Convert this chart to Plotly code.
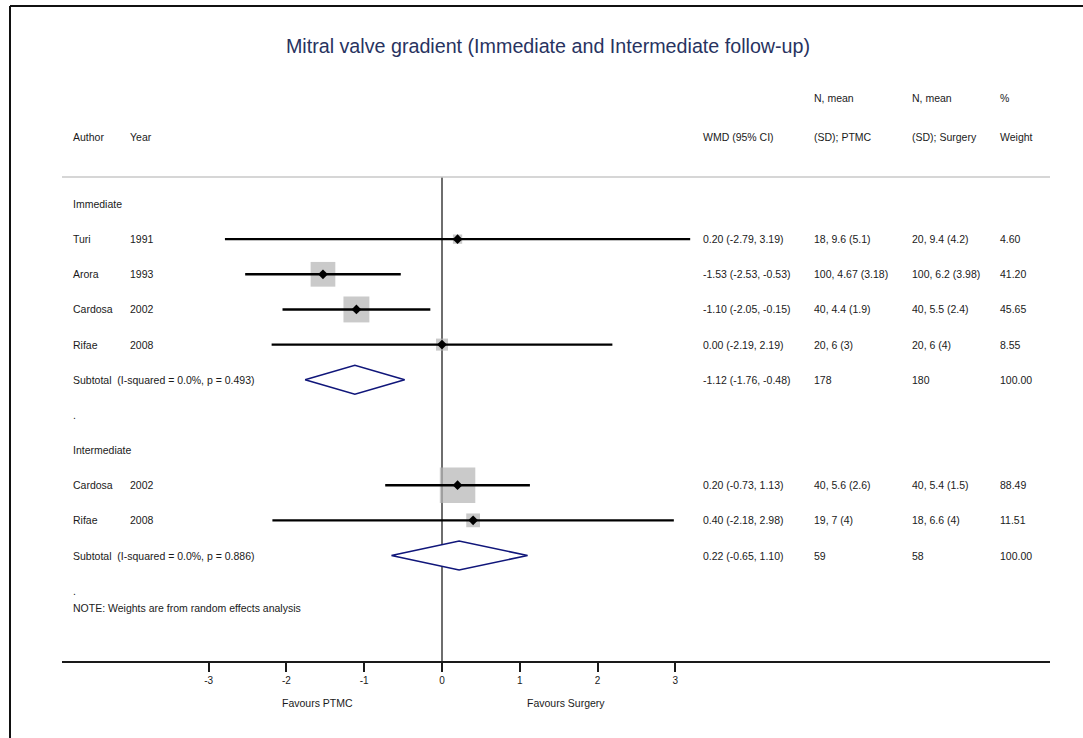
import plotly.graph_objects as go

# ---------------- data ----------------
imm_authors = ["Turi", "Arora", "Cardosa", "Rifae"]
imm_years = ["1991", "1993", "2002", "2008"]
imm_wmd = [0.20, -1.53, -1.10, 0.00]
imm_lo = [-2.79, -2.53, -2.05, -2.19]
imm_hi = [3.19, -0.53, -0.15, 2.19]
imm_ptmc = ["18, 9.6 (5.1)", "100, 4.67 (3.18)", "40, 4.4 (1.9)", "20, 6 (3)"]
imm_surg = ["20, 9.4 (4.2)", "100, 6.2 (3.98)", "40, 5.5 (2.4)", "20, 6 (4)"]
imm_weight = [4.60, 41.20, 45.65, 8.55]

int_authors = ["Cardosa", "Rifae"]
int_years = ["2002", "2008"]
int_wmd = [0.20, 0.40]
int_lo = [-0.73, -2.18]
int_hi = [1.13, 2.98]
int_ptmc = ["40, 5.6 (2.6)", "19, 7 (4)"]
int_surg = ["40, 5.4 (1.5)", "18, 6.6 (4)"]
int_weight = [88.49, 11.51]

sub_names = ["Immediate", "Intermediate"]
sub_est = [-1.12, 0.22]
sub_lo = [-1.76, -0.65]
sub_hi = [-0.48, 1.10]
sub_n_ptmc = ["178", "59"]
sub_n_surg = ["180", "58"]
sub_i2 = ["0.0%", "0.0%"]
sub_p = ["0.493", "0.886"]

tick_vals = [-3, -2, -1, 0, 1, 2, 3]
tick_text = ["-3", "-2", "-1", "0", "1", "2", "3"]

# ---------------- layout geometry ----------------
W, H = 1083, 738
PL, PR, PT, PB = 62, 1050, 177, 661       # plot area in pixels
X0PX, UNIT = 442.0, 77.8                  # pixel of x=0, pixels per unit
ROW0, STEP = 204.0, 35.15                 # pixel of row 0, row spacing

xr = [(PL - X0PX) / UNIT, (PR - X0PX) / UNIT]
yr = [(PB - ROW0) / STEP, (PT - ROW0) / STEP]


def px_x(px):
    return (px - PL) / (PR - PL)


def px_y(py):
    return (PB - py) / (PB - PT)


FONT = "Liberation Sans, Arial, sans-serif"
TXT = "#1a1a1a"
FS = 10.5

groups = [
    dict(authors=imm_authors, years=imm_years, wmd=imm_wmd, lo=imm_lo, hi=imm_hi,
         ptmc=imm_ptmc, surg=imm_surg, w=imm_weight, head=0),
    dict(authors=int_authors, years=int_years, wmd=int_wmd, lo=int_lo, hi=int_hi,
         ptmc=int_ptmc, surg=int_surg, w=int_weight, head=7),
]

fig = go.Figure()
ann = []


def add_text(px, y, text, yref="y", size=FS, anchor="left"):
    ann.append(dict(x=px_x(px), xref="paper", y=y, yref=yref, text=text,
                    showarrow=False, xanchor=anchor, yanchor="middle",
                    font=dict(family=FONT, size=size, color=TXT)))


ci_x, ci_y = [], []
box_x, box_y, box_s = [], [], []
pt_x, pt_y = [], []
max_w = max(imm_weight + int_weight)

for gi, g in enumerate(groups):
    h = g["head"]
    add_text(71, h, sub_names[gi])
    for k in range(len(g["authors"])):
        r = h + 1 + k
        add_text(71, r, g["authors"][k])
        add_text(128, r, g["years"][k])
        add_text(701, r, "%.2f (%.2f, %.2f)" % (g["wmd"][k], g["lo"][k], g["hi"][k]))
        add_text(812, r, g["ptmc"][k])
        add_text(910, r, g["surg"][k])
        add_text(998, r, "%.2f" % g["w"][k])
        ci_x += [g["lo"][k], g["hi"][k], None]
        ci_y += [r, r, None]
        box_x.append(g["wmd"][k])
        box_y.append(r)
        box_s.append(1.5 + 34 * (g["w"][k] / max_w) ** 0.5)
        pt_x.append(g["wmd"][k])
        pt_y.append(r)
    rs = h + 1 + len(g["authors"])
    add_text(71, rs, "Subtotal  (I-squared = %s, p = %s)" % (sub_i2[gi], sub_p[gi]))
    add_text(701, rs, "%.2f (%.2f, %.2f)" % (sub_est[gi], sub_lo[gi], sub_hi[gi]))
    add_text(812, rs, sub_n_ptmc[gi])
    add_text(910, rs, sub_n_surg[gi])
    add_text(998, rs, "100.00")
    hh = 0.41
    fig.add_trace(go.Scatter(
        x=[sub_lo[gi], sub_est[gi], sub_hi[gi], sub_est[gi], sub_lo[gi]],
        y=[rs, rs - hh, rs, rs + hh, rs],
        mode="lines", fill="toself", fillcolor="white",
        line=dict(color="#10167a", width=1.6), hoverinfo="skip", showlegend=False))
    add_text(71, rs + 1, ".")

add_text(71, (608 - ROW0) / STEP, "NOTE: Weights are from random effects analysis")

# headers
for px, l1, l2 in [(812, "N, mean", "(SD); PTMC"), (910, "N, mean", "(SD); Surgery"),
                   (998, "%", "Weight")]:
    add_text(px, px_y(98), l1, yref="paper")
    add_text(px, px_y(137), l2, yref="paper")
add_text(71, px_y(137), "Author", yref="paper")
add_text(128, px_y(137), "Year", yref="paper")
add_text(701, px_y(137), "WMD (95% CI)", yref="paper")

# favours labels under axis
ann.append(dict(x=-1.6, xref="x", y=px_y(703), yref="paper", text="Favours PTMC",
                showarrow=False, xanchor="center", yanchor="middle",
                font=dict(family=FONT, size=FS, color=TXT)))
ann.append(dict(x=1.6, xref="x", y=px_y(703), yref="paper", text="Favours Surgery",
                showarrow=False, xanchor="center", yanchor="middle",
                font=dict(family=FONT, size=FS, color=TXT)))

fig.add_trace(go.Scatter(x=box_x, y=box_y, mode="markers",
                         marker=dict(symbol="square", size=box_s, color="#b4b4b4",
                                     line=dict(width=0)),
                         hoverinfo="skip", showlegend=False))
fig.add_trace(go.Scatter(x=ci_x, y=ci_y, mode="lines",
                         line=dict(color="black", width=2.4),
                         hoverinfo="skip", showlegend=False))
fig.add_trace(go.Scatter(x=pt_x, y=pt_y, mode="markers",
                         marker=dict(symbol="diamond", size=7.5, color="black",
                                     line=dict(width=0)),
                         hoverinfo="skip", showlegend=False))

shapes = [
    # null line
    dict(type="line", xref="x", yref="paper", x0=0, x1=0, y0=0, y1=1,
         line=dict(color="#4a4a4a", width=1.6), layer="below"),
    # gray separator
    dict(type="line", xref="paper", yref="paper", x0=0, x1=1, y0=1, y1=1,
         line=dict(color="#c8c8c8", width=1.6)),
    # outer frame (left and top)
    dict(type="line", xref="paper", yref="paper", x0=px_x(10), x1=px_x(10),
         y0=px_y(6), y1=px_y(745), line=dict(color="#111111", width=2)),
    dict(type="line", xref="paper", yref="paper", x0=px_x(10), x1=px_x(1090),
         y0=px_y(6), y1=px_y(6), line=dict(color="#111111", width=2)),
]

fig.update_layout(
    width=W, height=H,
    margin=dict(l=PL, r=W - PR, t=PT, b=H - PB, pad=0),
    paper_bgcolor="white", plot_bgcolor="white",
    showlegend=False,
    title=dict(text="Mitral valve gradient (Immediate and Intermediate follow-up)",
               x=548 / W, xanchor="center", xref="container",
               y=1 - 46 / H, yanchor="middle", yref="container",
               font=dict(family=FONT, size=19.7, color="#28335f")),
    xaxis=dict(range=xr, showgrid=False, zeroline=False, showline=True,
               linecolor="#1a1a1a", linewidth=1.6, ticks="outside", ticklen=9,
               tickwidth=1.5, tickcolor="#1a1a1a", tickvals=tick_vals,
               ticktext=tick_text, tickfont=dict(family=FONT, size=10, color=TXT),
               fixedrange=True),
    yaxis=dict(range=yr, showgrid=False, zeroline=False, showline=False,
               showticklabels=False, ticks="", fixedrange=True),
    annotations=ann,
    shapes=shapes,
)

fig.write_html("out.html",
               config={"displayModeBar": False},
               post_script="document.body.style.margin='0';document.body.style.overflow='hidden';")
